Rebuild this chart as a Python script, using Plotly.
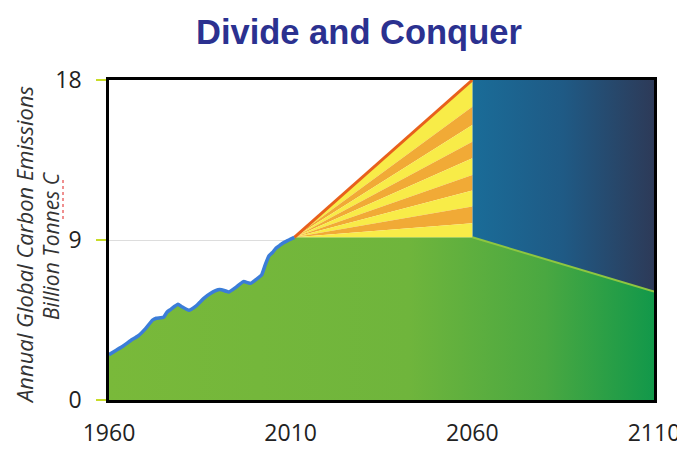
import plotly.graph_objects as go

# ---------------- data ----------------
hist_years = [1960, 1962, 1964, 1966, 1968, 1970, 1972, 1973, 1975, 1976, 1977, 1979,
              1980, 1982, 1984, 1985, 1986, 1988, 1990, 1991, 1993, 1995, 1997, 1999,
              2000, 2002, 2003, 2004, 2005, 2006, 2007, 2008, 2009, 2010, 2011]
hist_emissions = [2.55, 2.8, 3.05, 3.35, 3.6, 4.0, 4.5, 4.6, 4.65, 4.95, 5.1, 5.38,
                  5.25, 5.05, 5.3, 5.5, 5.7, 6.0, 6.2, 6.2, 6.08, 6.35, 6.66, 6.56,
                  6.7, 7.03, 7.6, 8.1, 8.3, 8.55, 8.7, 8.85, 8.95, 9.05, 9.15]

stab_start_year = 2011
stab_end_year = 2060
stab_level = 9.15
bau_end_level = 18
final_year = 2110
final_level = 6.1
wedge_bounds = [18, 16.5, 15.47, 14.53, 13.6, 12.66, 11.78, 10.88, 9.94, 9.15]
wedge_colors = ["#f8ec48", "#f1aa36"]

x_ticks = [1960, 2010, 2060, 2110]
y_ticks = [0, 9, 18]

fig = go.Figure()

# green area (history + flat path + decline)
gx = [1960] + hist_years + [stab_end_year, final_year, final_year, 1960]
gy = [0] + hist_emissions + [stab_level, final_level, 0, 0]
fig.add_trace(go.Scatter(
    x=gx, y=gy, mode="lines", fill="toself", line=dict(width=0),
    fillgradient=dict(type="horizontal",
                      colorscale=[[0, "#79b93a"], [0.55, "#6fb53c"], [0.8, "#4aa841"], [1, "#12984a"]]),
    hoverinfo="skip", showlegend=False))

# blue region
fig.add_trace(go.Scatter(
    x=[stab_end_year, stab_end_year, final_year, final_year, stab_end_year],
    y=[stab_level, bau_end_level, bau_end_level, final_level, stab_level],
    mode="lines", fill="toself", line=dict(width=0),
    fillgradient=dict(type="horizontal",
                      colorscale=[[0, "#1a6c98"], [0.5, "#1f5a85"], [1, "#2d3a58"]]),
    hoverinfo="skip", showlegend=False))

# boundary line between green and blue
fig.add_trace(go.Scatter(
    x=[stab_end_year, final_year], y=[stab_level, final_level], mode="lines",
    line=dict(color="#8ec640", width=2), hoverinfo="skip", showlegend=False))

# stabilization wedges
for i in range(len(wedge_bounds) - 1):
    fig.add_trace(go.Scatter(
        x=[stab_start_year, stab_end_year, stab_end_year, stab_start_year],
        y=[stab_level, wedge_bounds[i], wedge_bounds[i + 1], stab_level],
        mode="lines", fill="toself", line=dict(width=0),
        fillcolor=wedge_colors[i % 2], hoverinfo="skip", showlegend=False))

# business-as-usual line
fig.add_trace(go.Scatter(
    x=[stab_start_year, stab_end_year], y=[stab_level, bau_end_level], mode="lines",
    line=dict(color="#e8601c", width=3), hoverinfo="skip", showlegend=False))

# historical emissions line
fig.add_trace(go.Scatter(
    x=hist_years, y=hist_emissions, mode="lines",
    line=dict(color="#3b7dd8", width=3.5, shape="spline", smoothing=0.4),
    hoverinfo="skip", showlegend=False))

fig.update_layout(
    width=685, height=449,
    margin=dict(l=101, r=39, t=72, b=57, autoexpand=False),
    paper_bgcolor="white", plot_bgcolor="white",
    font=dict(family="Open Sans", color="#222222"),
    showlegend=False,
    annotations=[
        dict(text="<b>Divide and Conquer</b>", xref="paper", yref="paper",
             x=(359 - 109) / 545, y=1 + (80 - 32) / 320, xanchor="center", yanchor="middle",
             showarrow=False, font=dict(family="Liberation Sans", size=34.5, color="#2b3190")),
        dict(text="<i>Annual Global Carbon Emissions</i>", xref="paper", yref="paper",
             x=(24 - 109) / 545, y=(400 - 245) / 320, xanchor="center", yanchor="middle",
             textangle=-90, showarrow=False,
             font=dict(family="Open Sans", size=22, color="#333333")),
        dict(text="<i>Billion Tonnes C</i>", xref="paper", yref="paper",
             x=(51 - 109) / 545, y=(400 - 246) / 320, xanchor="center", yanchor="middle",
             textangle=-90, showarrow=False,
             font=dict(family="Open Sans", size=21, color="#333333")),
    ],
    shapes=[
        dict(type="line", xref="paper", yref="paper",
             x0=(63 - 109) / 545, x1=(63 - 109) / 545,
             y0=(400 - 180) / 320, y1=(400 - 220) / 320,
             line=dict(color="#e02020", width=1, dash="dot")),
    ],
)

fig.update_xaxes(range=[1960, 2110], tickvals=x_ticks, ticks="", showgrid=False,
                 showline=True, linecolor="black", linewidth=2.5, mirror=True,
                 zeroline=False, ticklabelstandoff=11, automargin=False,
                 tickfont=dict(family="Open Sans", size=23, color="#222222"))
fig.update_yaxes(range=[0, 18], tickvals=y_ticks, ticks="outside", ticklen=10,
                 tickwidth=2, tickcolor="#c8dc28", showgrid=True, gridcolor="#dddddd",
                 gridwidth=1, showline=True, linecolor="black", linewidth=2.5, mirror=True,
                 zeroline=False, ticklabelstandoff=10, automargin=False,
                 tickfont=dict(family="Open Sans", size=23, color="#222222"))

fig.write_html("out.html")
